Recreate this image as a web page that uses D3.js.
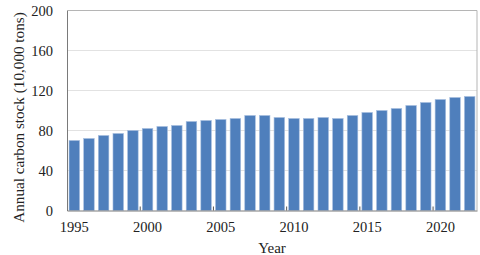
<!DOCTYPE html>
<html>
<head>
<meta charset="utf-8">
<script src="https://cdn.jsdelivr.net/npm/d3@7"></script>
<style>
  body { margin: 0; background: #fff; }
  text { font-family: "Liberation Serif", "DejaVu Serif", serif; fill: #222; }
</style>
</head>
<body>
<div id="chart"></div>
<script>
// data
const years = d3.range(1995, 2023);
const carbonStock = [70, 72, 75, 77, 80, 82, 84, 85, 89, 90, 91, 92, 95, 95, 93,
                     92, 92, 93, 92, 95, 98, 100, 102, 105, 108, 111, 113, 114];
const yTicks = [0, 40, 80, 120, 160, 200];
const xLabelYears = [1995, 2000, 2005, 2010, 2015, 2020];

const W = 480, H = 255;
const margin = {top: 10.5, right: 3, bottom: 44.5, left: 67};
const width = W - margin.left - margin.right,
      height = H - margin.top - margin.bottom;

const svg = d3.select("#chart").append("svg")
    .attr("width", W).attr("height", H);
const g = svg.append("g")
    .attr("transform", "translate(" + margin.left + "," + margin.top + ")");

const x = d3.scaleBand()
    .domain(years)
    .range([0, width])
    .paddingInner(0.28)
    .paddingOuter(0.14);

const y = d3.scaleLinear()
    .domain([0, 200])
    .range([height, 0]);

// gridlines
g.selectAll(".grid")
    .data(yTicks.filter(d => d > 0))
    .enter().append("line")
    .attr("x1", 0).attr("x2", width)
    .attr("y1", d => y(d)).attr("y2", d => y(d))
    .attr("stroke", d => d === 200 ? "#b5b5b5" : "#e2e2e2")
    .attr("stroke-width", 1);

// right border
g.append("line")
    .attr("x1", width).attr("x2", width)
    .attr("y1", y(200)).attr("y2", y(0))
    .attr("stroke", "#b5b5b5");

// bars
g.selectAll(".bar")
    .data(years.map((yr, i) => ({year: yr, value: carbonStock[i]})))
    .enter().append("rect")
    .attr("class", "bar")
    .attr("x", d => x(d.year))
    .attr("y", d => y(d.value))
    .attr("width", x.bandwidth())
    .attr("height", d => y(0) - y(d.value))
    .attr("fill", "#4f7fbc")
    .attr("stroke", "#a7bfe0")
    .attr("stroke-width", 0.6);

// y axis
const yAxis = g.append("g")
    .call(d3.axisLeft(y).tickValues(yTicks).tickSize(0).tickPadding(14));
yAxis.select(".domain").attr("stroke", "#7a7a7a");
yAxis.selectAll("text")
    .style("font-size", "14.5px")
    .style("font-family", "'Liberation Serif', serif");

// x axis: labels centred on bars, tick marks between categories
const gap = x.step() - x.bandwidth();
const xAxis = g.append("g")
    .attr("transform", "translate(0," + height + ")")
    .call(d3.axisBottom(x).tickValues(xLabelYears).tickSize(0).tickPadding(11));
xAxis.select(".domain").attr("stroke", "#7a7a7a");
xAxis.selectAll("text")
    .style("font-size", "14.5px")
    .style("font-family", "'Liberation Serif', serif");

g.selectAll(".xtick")
    .data(xLabelYears.slice(1))
    .enter().append("line")
    .attr("x1", d => x(d) - gap / 2)
    .attr("x2", d => x(d) - gap / 2)
    .attr("y1", height)
    .attr("y2", height - 4)
    .attr("stroke", "#555");

// axis titles
svg.append("text")
    .attr("text-anchor", "middle")
    .attr("x", margin.left + width / 2)
    .attr("y", 253)
    .style("font-size", "15px")
    .text("Year");

svg.append("text")
    .attr("text-anchor", "middle")
    .attr("transform", "translate(24," + (margin.top + height / 2 + 7) + ") rotate(-90)")
    .style("font-size", "15.2px")
    .text("Annual carbon stock (10,000 tons)");
</script>
</body>
</html>
